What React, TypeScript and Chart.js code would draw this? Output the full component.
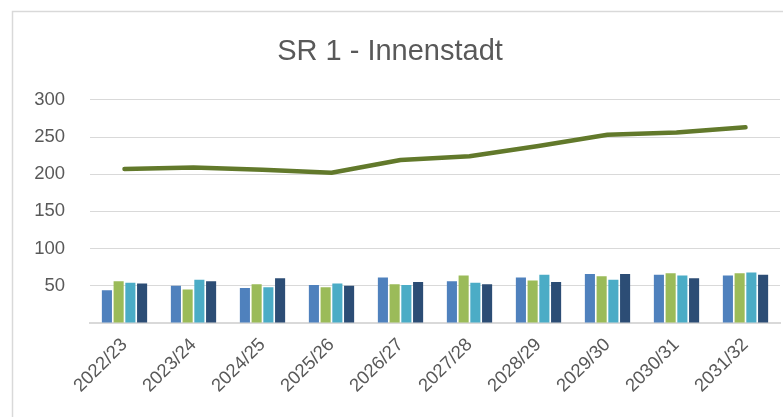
import React, { useEffect, useRef } from "react";
import { Chart, registerables } from "chart.js";

Chart.register(...registerables);

const categories = ["2022/23", "2023/24", "2024/25", "2025/26", "2026/27", "2027/28", "2028/29", "2029/30", "2030/31", "2031/32"];
const series1 = [44, 50, 47, 51, 61, 56, 61, 66, 65, 64];
const series2 = [56, 45, 52, 48, 52, 64, 57, 63, 67, 67];
const series3 = [54, 58, 48, 53, 51, 54, 65, 58, 64, 68];
const series4 = [53, 56, 60, 50, 55, 52, 55, 66, 60, 65];
const totalLine = [207, 209, 206, 202, 219, 224, 238, 253, 256, 263];
const yTicks = [0, 50, 100, 150, 200, 250, 300];

const GRAY_TEXT = "#595959";
const FONT = "'Liberation Sans', Arial, sans-serif";

const framePlugin = {
  id: "frame",
  beforeDraw(chart: any) {
    const ctx = chart.ctx;
    ctx.save();
    ctx.fillStyle = "#ffffff";
    ctx.fillRect(0, 0, chart.width, chart.height);
    ctx.strokeStyle = "#d9d9d9";
    ctx.lineWidth = 1.5;
    ctx.beginPath();
    ctx.moveTo(12.5, chart.height);
    ctx.lineTo(12.5, 11.5);
    ctx.lineTo(chart.width, 11.5);
    ctx.stroke();
    ctx.restore();
  },
};

export default function App() {
  const ref = useRef<HTMLCanvasElement | null>(null);

  useEffect(() => {
    if (!ref.current) return;
    const chart = new Chart(ref.current, {
      type: "bar",
      data: {
        labels: categories,
        datasets: [
          { type: "line", label: "Gesamt", data: totalLine, borderColor: "#62792b", backgroundColor: "#62792b", borderWidth: 4.5, pointRadius: 0, tension: 0, borderCapStyle: "round", borderJoinStyle: "round", order: 0 } as any,
          { label: "Serie 1", data: series1, backgroundColor: "#4f81bd", order: 1 },
          { label: "Serie 2", data: series2, backgroundColor: "#9bbb59", order: 1 },
          { label: "Serie 3", data: series3, backgroundColor: "#4bacc6", order: 1 },
          { label: "Serie 4", data: series4, backgroundColor: "#2c4d75", order: 1 },
        ],
      },
      options: {
        responsive: false,
        animation: false,
        datasets: { bar: { barPercentage: 0.86, categoryPercentage: 0.68 } },
        layout: { padding: { left: 0, right: 3, top: 0, bottom: 0 } },
        plugins: {
          legend: { display: false },
          tooltip: { enabled: false },
          title: {
            display: true,
            text: "SR 1 - Innenstadt",
            color: GRAY_TEXT,
            font: { family: FONT, size: 29, weight: "normal" },
            padding: { top: 35, bottom: 30 },
          },
        },
        scales: {
          x: {
            grid: { display: false, drawTicks: false },
            border: { display: true, color: "#d9d9d9", width: 2 },
            ticks: {
              color: GRAY_TEXT,
              font: { family: FONT, size: 18.5 },
              maxRotation: 45,
              minRotation: 45,
              padding: 11,
              autoSkip: false,
            },
            afterFit: (s: any) => { s.height = 94; },
          },
          y: {
            min: 0,
            max: 300,
            afterBuildTicks: (s: any) => { s.ticks = yTicks.map((v) => ({ value: v })); },
            grid: { color: "#d9d9d9", lineWidth: 1, drawTicks: false },
            border: { display: false },
            ticks: {
              color: GRAY_TEXT,
              font: { family: FONT, size: 18.5 },
              padding: 25,
              callback: (v: any) => (v === 0 ? "" : String(v)),
            },
            afterFit: (s: any) => { s.width = 90; },
          },
        },
      },
      plugins: [framePlugin],
    });
    return () => chart.destroy();
  }, []);

  return (
    <div style={{ position: "fixed", left: 0, top: 0, width: 783, height: 417 }}>
      <canvas ref={ref} width={783} height={417} style={{ display: "block" }} />
    </div>
  );
}
